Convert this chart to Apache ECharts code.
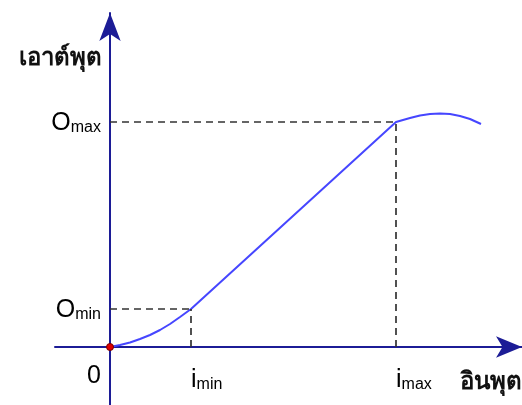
<!DOCTYPE html>
<html>
<head>
<meta charset="utf-8">
<script src="https://cdn.jsdelivr.net/npm/echarts@6/dist/echarts.min.js"></script>
<style>
html,body{margin:0;padding:0;background:#fff;}
#c{width:522px;height:405px;}
</style>
</head>
<body>
<div id="c"></div>
<script>
// Transfer curve: input (x) vs output (y), arbitrary units
const inputVals  = [0, 1, 2, 3, 4, 5, 6, 7, 8.1, 28.6, 30, 31, 32, 33, 34, 35, 36, 37.1];
const outputVals = [0, 0.2, 0.45, 0.8, 1.2, 1.7, 2.3, 3.0, 3.8, 22.5, 22.9, 23.15, 23.3, 23.35, 23.3, 23.1, 22.8, 22.3];
const iMin = 8.1, iMax = 28.6, oMin = 3.8, oMax = 22.5;
const xTickValues = [iMin, iMax];
const xTickLabels = ['{b|i}{s|min}', '{b|i}{s|max}'];
const yTickValues = [oMin, oMax];
const yTickLabels = ['{b|O}{s|min}', '{b|O}{s|max}'];
const originLabel = '0';
const xName = 'อินพุต';
const yName = 'เอาต์พุต';

const axisColor = '#1c1c96';
const font = '"Liberation Sans", Arial, sans-serif';
const rich = {
  b: {fontSize: 25, fontFamily: font, color: '#000', lineHeight: 28, verticalAlign: 'bottom'},
  s: {fontSize: 16, fontFamily: font, color: '#000', lineHeight: 28, verticalAlign: 'bottom'}
};

const chart = echarts.init(document.getElementById('c'), null, {renderer: 'canvas'});
const pts = inputVals.map((x, i) => [x, outputVals[i]]);
const dashStyle = {color: '#333', width: 1.7, type: [7, 5]};

chart.setOption({
  animation: false,
  backgroundColor: '#fff',
  grid: {left: 55, right: 0, top: 13, bottom: 0, containLabel: false, outerBoundsMode: 'none'},
  xAxis: {
    type: 'value', min: -5.5, max: 41.2,
    offset: -58,
    name: xName, nameLocation: 'end', nameGap: 0,
    nameTextStyle: {fontSize: 24, fontWeight: 'bold', color: '#111', align: 'right', verticalAlign: 'top', padding: [23, 0, 0, 0], fontFamily: 'Tahoma, "Noto Sans", sans-serif'},
    axisLine: {onZero: false, lineStyle: {color: axisColor, width: 2}, symbol: ['none', 'arrow'], symbolSize: [16, 26]},
    axisTick: {show: false},
    splitLine: {show: false},
    axisLabel: {
      customValues: xTickValues, align: 'left', margin: 18,
      formatter: v => xTickLabels[xTickValues.indexOf(v)] || '',
      rich: rich
    }
  },
  yAxis: {
    type: 'value', min: -5.8, max: 33.4,
    offset: -55,
    name: yName, nameLocation: 'end', nameGap: -45,
    nameTextStyle: {fontSize: 24, fontWeight: 'bold', color: '#111', align: 'right', verticalAlign: 'middle', padding: [0, 8, 0, 0], fontFamily: 'Tahoma, "Noto Sans", sans-serif'},
    axisLine: {onZero: false, lineStyle: {color: axisColor, width: 2}, symbol: ['none', 'arrow'], symbolSize: [16, 28]},
    axisTick: {show: false},
    splitLine: {show: false},
    axisLabel: {
      customValues: yTickValues, margin: 9,
      formatter: v => yTickLabels[yTickValues.indexOf(v)] || '',
      rich: rich
    }
  },
  series: [{
    type: 'line',
    data: pts,
    showSymbol: false,
    smooth: false,
    lineStyle: {color: '#4646ff', width: 2},
    z: 3,
    markLine: {
      silent: true, symbol: 'none', label: {show: false},
      lineStyle: dashStyle,
      data: [
        [{coord: [0, oMin]}, {coord: [iMin, oMin]}],
        [{coord: [iMin, 0]}, {coord: [iMin, oMin]}],
        [{coord: [0, oMax]}, {coord: [iMax, oMax]}],
        [{coord: [iMax, 0]}, {coord: [iMax, oMax]}]
      ]
    },
    markPoint: {
      silent: true,
      symbol: 'circle', symbolSize: 7,
      itemStyle: {color: '#e00000', borderColor: '#700', borderWidth: 1},
      label: {show: true, formatter: originLabel, offset: [-16, 29], fontSize: 25, fontFamily: font, color: '#000'},
      data: [{coord: [0, 0]}]
    }
  }]
});
</script>
</body>
</html>
